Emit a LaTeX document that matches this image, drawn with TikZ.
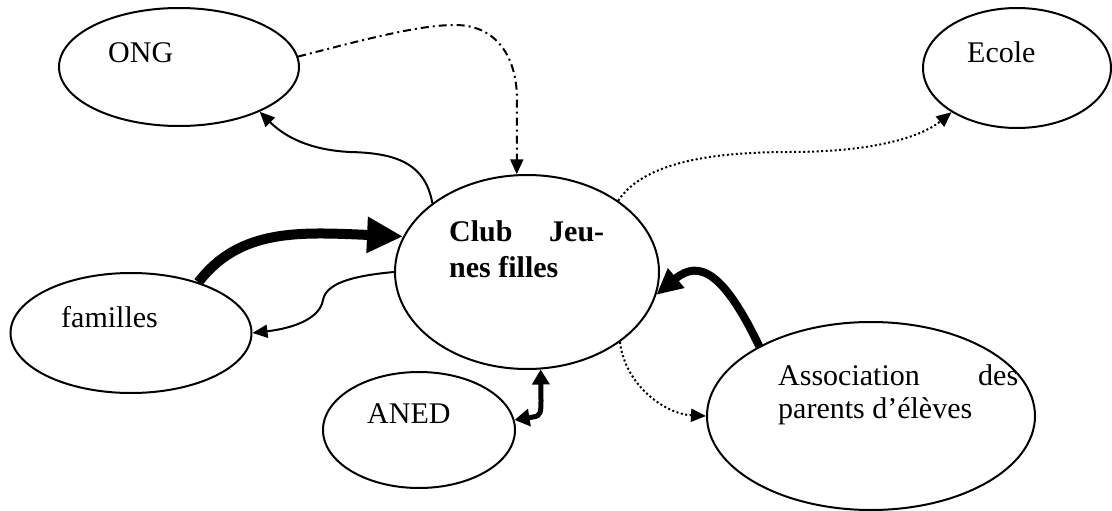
\documentclass[tikz,border=0pt]{standalone}
\usepackage{fontspec}
\setmainfont{Liberation Serif}
\usetikzlibrary{shapes,positioning,arrows.meta}

\begin{document}
\begin{tikzpicture}[
    x=1pt, y=-1pt,
    bulle/.style={ellipse, draw, line width=2pt, inner sep=0pt},
    mot/.style={anchor=base west, inner sep=0pt, font=\fontsize{30}{36}\selectfont},
    fin/.style={line width=2pt, -{Triangle[length=15pt,width=13pt]}},
    tiret/.style={fin, dash pattern=on 8pt off 4pt on 2pt off 4pt},
    pointille/.style={fin, dash pattern=on 2pt off 2.5pt},
    gros/.style={line width=10pt, -{Triangle[length=36pt,width=34pt]}},
    moyen/.style={line width=8pt, -{Triangle[length=26pt,width=24pt]}},
    double/.style={line width=5pt, {Triangle[length=15pt,width=17pt]}-{Triangle[length=15pt,width=17pt]}}
]
    \useasboundingbox (0,0) rectangle (1112,511);

    % Acteurs
    \node[bulle, minimum width=240pt, minimum height=118pt] (ong) at (179,67) {};
    \node[bulle, minimum width=188pt, minimum height=120pt] (ecole) at (1017,68) {};
    \node[bulle, minimum width=264pt, minimum height=194pt] (club) at (527,272) {};
    \node[bulle, minimum width=241pt, minimum height=120pt] (familles) at (131,333) {};
    \node[bulle, minimum width=192pt, minimum height=116pt] (aned) at (419,430) {};
    \node[bulle, minimum width=328pt, minimum height=188pt] (assoc) at (871,416) {};

    % Textes
    \node[mot] (tong) at (108,63) {ONG};
    \node[mot] (tecole) at (967,63) {Ecole};
    \node[mot, font=\fontsize{30}{36}\selectfont\bfseries] (tclub1) at (449,241) {\makebox[155pt][s]{Club Jeu-}};
    \node[mot, font=\fontsize{30}{36}\selectfont\bfseries] (tclub2) at (449,277) {nes filles};
    \node[mot] (tfamilles) at (61,327) {familles};
    \node[mot] (taned) at (367,423) {ANED};
    \node[mot] (tassoc1) at (778,385) {\makebox[240pt][s]{Association des}};
    \node[mot] (tassoc2) at (778,418) {parents d’élèves};

    % Liens
    \draw[tiret] (ong.5) .. controls (370,38) and (420,25) .. (455,25) .. controls (495,25) and (517,55) .. (517,100) -- (club.96);
    \draw[fin] (club.144) .. controls (425,160) and (390,153) .. (350,152) .. controls (310,150) and (285,137) .. (ong.-29);
    \draw[gros] (familles.37) .. controls (240,228) and (300,232) .. (club.164);
    \draw[fin] (club.180) .. controls (350,276) and (326,284) .. (323,300) .. controls (320,318) and (295,328) .. (familles.0);
    \draw[double] (aned.6) -- (533,417) .. controls (541,416) and (541,412) .. (541,400) -- (club.-82);
    \draw[pointille] (club.38) .. controls (645,160) and (720,152) .. (790,152) .. controls (870,152) and (920,138) .. (ecole.214);
    \draw[pointille] (club.-37) .. controls (625,385) and (665,414) .. (assoc.180);
    \draw[moyen] (assoc.148) .. controls (725,275) and (700,258) .. (club.-10);
\end{tikzpicture}
\end{document}
